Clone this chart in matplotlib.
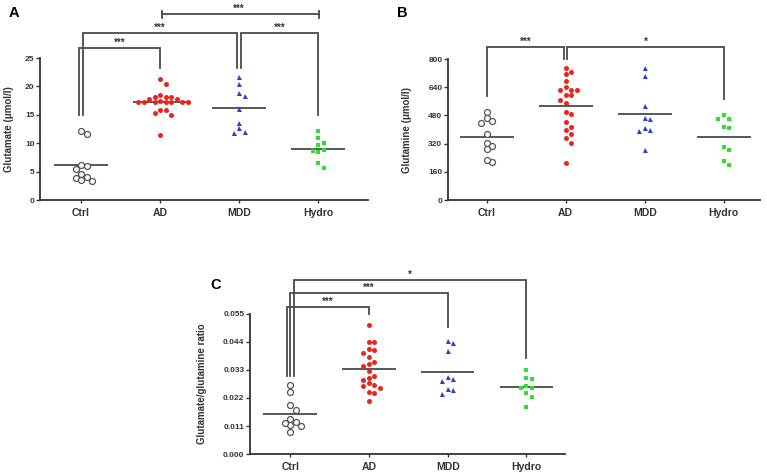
import numpy as np
import matplotlib
matplotlib.use("Agg")
import matplotlib.pyplot as plt

plt.rcParams["font.family"] = ["Liberation Sans", "DejaVu Sans"]
plt.rcParams["font.weight"] = "bold"

groups = ["Ctrl", "AD", "MDD", "Hydro"]

# Panel A - glutamate (umol/l)
glu_ctrl = [12.15, 11.6, 6.0, 6.2, 5.5, 4.6, 4.0, 3.9, 3.3, 3.6]
glu_ad = [21.3, 20.5, 18.5, 18.2, 18.2, 18.2, 17.8, 17.8, 17.5, 17.3, 17.3,
          17.2, 17.2, 17.2, 17.2, 17.2, 15.8, 15.8, 15.3, 15.0, 11.5]
glu_mdd = [21.7, 20.5, 18.8, 18.3, 16.1, 13.6, 12.6, 11.85, 12.0]
glu_hydro = [12.2, 10.9, 10.1, 9.6, 8.7, 8.4, 8.8, 6.5, 5.6]

# Panel B - glutamine (umol/l)
gln_ctrl = [498, 464, 436, 451, 372, 326, 307, 288, 214, 226]
gln_ad = [749, 724, 716, 673, 626, 622, 626, 641, 594, 594, 569, 550, 489,
          502, 440, 413, 398, 372, 351, 326, 212]
gln_mdd = [749, 705, 535, 462, 466, 398, 394, 410, 284]
gln_hydro = [481, 459, 462, 406, 413, 303, 284, 224, 201]

# Panel C - glutamate/glutamine ratio
rat_ctrl = [0.0272, 0.0242, 0.0194, 0.0173, 0.0139, 0.0124, 0.0114, 0.0110,
            0.0123, 0.0088]
rat_ad = [0.0507, 0.0439, 0.0439, 0.0411, 0.0410, 0.0398, 0.0382, 0.0363,
          0.0354, 0.0347, 0.0326, 0.0306, 0.0300, 0.0291, 0.0278, 0.0271,
          0.0267, 0.0258, 0.0242, 0.0238, 0.0208]
rat_mdd = [0.0445, 0.0435, 0.0405, 0.0293, 0.0288, 0.0301, 0.0255, 0.0251, 0.0234]
rat_hydro = [0.0330, 0.0300, 0.0295, 0.0267, 0.0261, 0.0258, 0.0241, 0.0225, 0.0183]

# brackets: (left group, right group, height, left leg bottom, right leg bottom, label)
brackets_a = [(0, 1, 26.8, 15.0, 23.2, "***"),
              (0, 2, 29.4, 15.0, 23.2, "***"),
              (2, 3, 29.4, 23.2, 15.0, "***")]
brackets_b = [(0, 1, 866, 588, 800, "***"),
              (1, 3, 866, 800, 574, "*")]
brackets_c = [(0, 1, 0.0576, 0.0308, 0.055, "***"),
              (0, 2, 0.0631, 0.0308, 0.050, "***"),
              (0, 3, 0.0684, 0.0308, 0.0379, "*")]

styles = [dict(marker="o", mfc="white", mec="#555555", ms=4.3, mew=0.9),
          dict(marker="o", mfc="#e8261f", mec="#e8261f", ms=3.6, mew=0),
          dict(marker="^", mfc="#2b3fd4", mec="#2b3fd4", ms=3.6, mew=0),
          dict(marker="s", mfc="#35dc35", mec="#35dc35", ms=3.4, mew=0)]

GRAY = "#4a4a4a"
W, H = 767, 473


def swarm(vals, px_per_unit, spacing_px, d=5.5):
    vals = np.asarray(vals, dtype=float)
    order = np.argsort(-vals)
    placed = []
    xs = np.zeros(len(vals))
    for i in order:
        y = vals[i] * px_per_unit
        for k in range(0, 30):
            off = ((k + 1) // 2) * d * (1 if k % 2 else -1) if k else 0.0
            if all((off - px) ** 2 + (y - py) ** 2 >= d * d for px, py in placed):
                break
        placed.append((off, y))
        xs[i] = off / spacing_px
    return xs


def panel(rect_px, data, ylim, yticks, fmt, ylabel, label_x, xlim, brackets, letter, letter_pos):
    l, r, t, b = rect_px
    ax = fig.add_axes([l / W, 1 - b / H, (r - l) / W, (b - t) / H])
    ppu = (b - t) / (ylim[1] - ylim[0])
    spacing = (r - l) / (xlim[1] - xlim[0])
    for i, vals in enumerate(data):
        off = swarm(vals, ppu, spacing)
        ax.plot(i + off, vals, linestyle="none", clip_on=False, zorder=3, **styles[i])
        ax.hlines(np.mean(vals), i - 0.34, i + 0.34, color=GRAY, lw=1.3, zorder=2)
    ax.set_xlim(*xlim)
    ax.set_ylim(*ylim)
    ax.set_yticks(yticks)
    ax.set_yticklabels([fmt.format(v) for v in yticks])
    ax.set_xticks(range(4))
    ax.set_xticklabels(groups, fontsize=7.5, fontweight="bold")
    for s in ["top", "right"]:
        ax.spines[s].set_visible(False)
    for s in ["left", "bottom"]:
        ax.spines[s].set_linewidth(1.3)
        ax.spines[s].set_color("#333333")
    ax.tick_params(axis="y", direction="out", length=3, width=1, labelsize=6, colors="#333333", pad=1)
    ax.tick_params(axis="x", direction="out", length=2.5, width=1, colors="#333333", pad=3)
    ax.set_ylabel(ylabel, fontsize=7, fontweight="bold", color="#333333")
    ax.yaxis.set_label_coords(label_x, 0.5)

    # significance brackets, legs of the same group spread a little
    legs = {}
    for g1, g2, h, b1, b2, txt in brackets:
        legs.setdefault(g1, []).append(g2)
        legs.setdefault(g2, []).append(g1)
    dx = 3.5 / spacing
    for g1, g2, h, b1, b2, txt in brackets:
        def leg_x(g, other):
            lst = sorted(legs[g])
            n = len(lst)
            return g + (lst.index(other) - (n - 1) / 2) * dx
        x1 = leg_x(g1, g2)
        x2 = leg_x(g2, g1)
        ax.plot([x1, x1, x2, x2], [b1, h, h, b2], color=GRAY, lw=1.3,
                clip_on=False, solid_joinstyle="miter")
        ax.annotate(txt, xy=((x1 + x2) / 2, h), xytext=(0, 0.3), textcoords="offset points",
                    ha="center", va="bottom", fontsize=7, fontweight="bold", color="#333333",
                    annotation_clip=False)
    fig.text(letter_pos[0] / W, 1 - letter_pos[1] / H, letter, fontsize=10.5,
             fontweight="bold", ha="left", va="baseline")
    return ax


fig = plt.figure(figsize=(W / 100, H / 100), dpi=100)

ax_a = panel((40, 368, 58, 200), [glu_ctrl, glu_ad, glu_mdd, glu_hydro], (0, 25),
             [0, 5, 10, 15, 20, 25], "{:.0f}", "Glutamate (\u03bcmol/l)", -0.079,
             (-0.52, 3.63), brackets_a, "A", (9, 17))
# AD vs Hydro bracket with end caps
cap = 0.6
ax_a.plot([1.02, 3.01], [32.7, 32.7], color=GRAY, lw=1.3, clip_on=False)
for xc in (1.02, 3.01):
    ax_a.plot([xc, xc], [32.7 - cap, 32.7 + cap], color=GRAY, lw=1.3, clip_on=False)
ax_a.annotate("***", xy=(2.0, 32.7), xytext=(0, 0.3), textcoords="offset points",
              ha="center", va="bottom", fontsize=7, fontweight="bold", color="#333333",
              annotation_clip=False)

panel((448, 760, 59, 200), [gln_ctrl, gln_ad, gln_mdd, gln_hydro], (0, 800),
      [0, 160, 320, 480, 640, 800], "{:.0f}", "Glutamine (\u03bcmol/l)", -0.115,
      (-0.49, 3.46), brackets_b, "B", (397, 17))

panel((250, 565, 314, 454), [rat_ctrl, rat_ad, rat_mdd, rat_hydro], (0, 0.055),
      [0, 0.011, 0.022, 0.033, 0.044, 0.055], "{:.3f}", "Glutamate/glutamine ratio", -0.137,
      (-0.51, 3.49), brackets_c, "C", (210, 289))

fig.savefig("out.png", dpi=100)
